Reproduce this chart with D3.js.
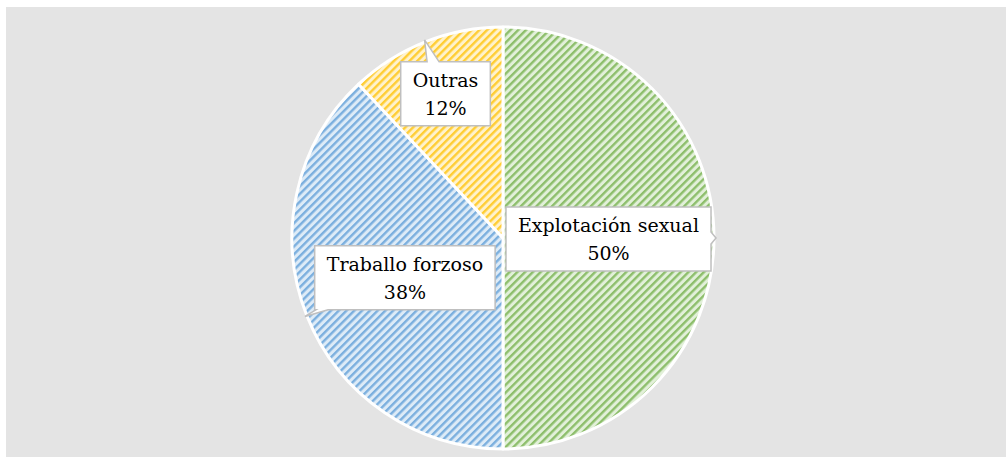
<!DOCTYPE html>
<html>
<head>
<meta charset="utf-8">
<script src="https://cdn.jsdelivr.net/npm/d3@7/dist/d3.min.js"></script>
<style>
  html, body { margin: 0; padding: 0; background: #ffffff; }
  svg { display: block; }
</style>
</head>
<body>
<div id="chart"></div>
<script>
// datos do gráfico
const categories = ['Explotación sexual', 'Traballo forzoso', 'Outras']
const values = [50, 38, 12]
const percentLabels = ['50%', '38%', '12%']

// cores: raia e fondo do padrón
const stripeColors = ['#70ad47', '#5b9bd5', '#ffc000']
const fillColors = ['#e2f0d9', '#ddebf7', '#fff2cc']
// distancia da etiqueta ao centro (fracción do raio)
const labelRadius = [0.5, 0.5, 0.74]

const width = 1006
const height = 457
const cx = 503
const cy = 238
const radius = 211

const svg = d3.select('#chart').append('svg')
  .attr('width', width)
  .attr('height', height)

// fondo gris
svg.append('rect')
  .attr('x', 6)
  .attr('y', 7)
  .attr('width', width - 6)
  .attr('height', height - 7)
  .attr('fill', '#e4e4e4')

// padróns de raias diagonais
const defs = svg.append('defs')
categories.forEach((c, i) => {
  const p = defs.append('pattern')
    .attr('id', 'pat' + i)
    .attr('patternUnits', 'userSpaceOnUse')
    .attr('width', 5.5)
    .attr('height', 5.5)
    .attr('patternTransform', 'rotate(45)')
  p.append('rect')
    .attr('width', 5.5)
    .attr('height', 5.5)
    .attr('fill', fillColors[i])
  p.append('rect')
    .attr('width', 2.4)
    .attr('height', 5.5)
    .attr('fill', stripeColors[i])
    .attr('opacity', 0.75)
})

const pie = d3.pie().sort(null).value(d => d)
const arcs = pie(values)
const arc = d3.arc().innerRadius(0).outerRadius(radius)

const g = svg.append('g').attr('transform', `translate(${cx},${cy})`)

g.selectAll('path.slice').data(arcs).enter()
  .append('path')
  .classed('slice', true)
  .attr('d', arc)
  .attr('fill', (d, i) => `url(#pat${i})`)
  .attr('stroke', '#ffffff')
  .attr('stroke-width', 3)
  .attr('stroke-linejoin', 'round')

// caixa con punteiro (callout)
function calloutPath(x0, y0, x1, y1, tx, ty) {
  const mx = (x0 + x1) / 2
  const my = (y0 + y1) / 2
  const dx = tx - mx
  const dy = ty - my
  const half = 6
  let side, ex, ey
  const tX = dx !== 0 ? ((dx > 0 ? x1 : x0) - mx) / dx : Infinity
  const tY = dy !== 0 ? ((dy > 0 ? y1 : y0) - my) / dy : Infinity
  if (tX < tY) {
    side = dx > 0 ? 'right' : 'left'
    ex = dx > 0 ? x1 : x0
    ey = my + dy * tX
  } else {
    side = dy > 0 ? 'bottom' : 'top'
    ey = dy > 0 ? y1 : y0
    ex = mx + dx * tY
  }
  const clampX = v => Math.max(x0, Math.min(x1, v))
  const clampY = v => Math.max(y0, Math.min(y1, v))
  const pts = []
  pts.push([x0, y0])
  if (side === 'top') {
    pts.push([clampX(ex - half), y0], [tx, ty], [clampX(ex + half), y0])
  }
  pts.push([x1, y0])
  if (side === 'right') {
    pts.push([x1, clampY(ey - half)], [tx, ty], [x1, clampY(ey + half)])
  }
  pts.push([x1, y1])
  if (side === 'bottom') {
    pts.push([clampX(ex + half), y1], [tx, ty], [clampX(ex - half), y1])
  }
  pts.push([x0, y1])
  if (side === 'left') {
    pts.push([x0, clampY(ey + half)], [tx, ty], [x0, clampY(ey - half)])
  }
  return 'M' + pts.map(p => p.join(',')).join('L') + 'Z'
}

const labels = g.selectAll('g.label').data(arcs).enter()
  .append('g')
  .classed('label', true)

labels.each(function(d, i) {
  const sel = d3.select(this)
  const mid = (d.startAngle + d.endAngle) / 2
  const lx = Math.sin(mid) * radius * labelRadius[i]
  const ly = -Math.cos(mid) * radius * labelRadius[i]
  const tipX = Math.sin(mid) * (radius + 2)
  const tipY = -Math.cos(mid) * (radius + 2)

  const box = sel.append('path')
  const text = sel.append('text')
    .attr('text-anchor', 'middle')
    .attr('font-family', 'DejaVu Serif')
    .attr('font-size', 19)
    .attr('fill', '#000000')
  text.append('tspan').attr('x', lx).attr('y', ly - 6).text(categories[i])
  text.append('tspan').attr('x', lx).attr('y', ly + 22).text(percentLabels[i])

  const bb = text.node().getBBox()
  const padX = 12
  const padY = 7
  const x0 = bb.x - padX
  const x1 = bb.x + bb.width + padX
  const y0 = bb.y - padY
  const y1 = bb.y + bb.height + padY
  box.attr('d', calloutPath(x0, y0, x1, y1, tipX, tipY))
    .attr('fill', '#ffffff')
    .attr('stroke', '#bfbfbf')
    .attr('stroke-width', 1.5)
    .attr('stroke-linejoin', 'miter')
})
</script>
</body>
</html>
